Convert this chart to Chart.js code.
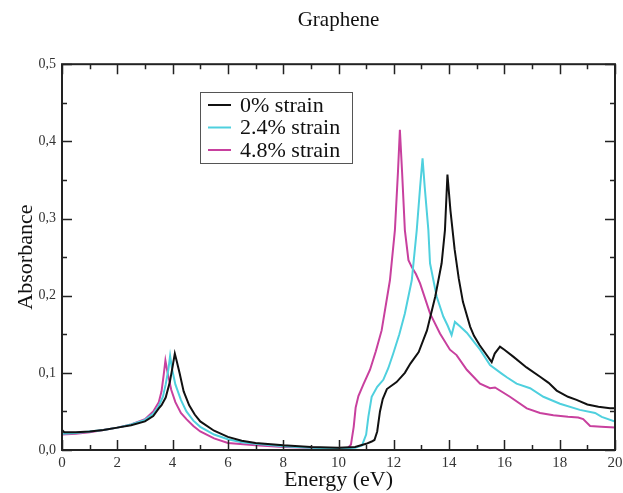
<!DOCTYPE html>
<html>
<head>
<meta charset="utf-8">
<script src="https://cdn.jsdelivr.net/npm/chart.js@4"></script>
<style>
  html, body { margin: 0; padding: 0; background: #fff; }
  #wrap { width: 623px; height: 493px; }
</style>
</head>
<body>
<div id="wrap"><canvas id="graf"></canvas></div>
<script>
// data
const energy0 = [0, 0.08, 0.5, 1, 1.5, 2, 2.5, 3, 3.3, 3.5, 3.6, 3.75, 3.9, 4.0, 4.08, 4.15, 4.25, 4.4, 4.6, 4.8, 5, 5.5, 6, 6.5, 7, 8, 9, 10, 10.6, 11, 11.2, 11.3, 11.4, 11.5, 11.6, 11.75, 12.1, 12.4, 12.6, 12.9, 13.2, 13.5, 13.73, 13.85, 13.94, 14.05, 14.2, 14.35, 14.5, 14.76, 14.9, 15.1, 15.3, 15.54, 15.65, 15.84, 16.0, 16.32, 16.8, 17.29, 17.6, 17.89, 18.3, 18.61, 19.0, 19.4, 19.82, 20];
const abs0 = [0.026, 0.023, 0.023, 0.024, 0.026, 0.029, 0.032, 0.037, 0.044, 0.054, 0.058, 0.068, 0.088, 0.108, 0.125, 0.115, 0.1, 0.076, 0.058, 0.046, 0.037, 0.025, 0.017, 0.012, 0.009, 0.006, 0.004, 0.003, 0.004, 0.008, 0.011, 0.013, 0.024, 0.05, 0.066, 0.079, 0.088, 0.1, 0.112, 0.127, 0.155, 0.199, 0.242, 0.285, 0.357, 0.31, 0.26, 0.222, 0.192, 0.16, 0.148, 0.136, 0.126, 0.114, 0.125, 0.134, 0.13, 0.121, 0.107, 0.095, 0.087, 0.077, 0.069, 0.065, 0.059, 0.056, 0.054, 0.054];

const energy1 = [0, 0.5, 1, 1.5, 2, 2.5, 3, 3.3, 3.5, 3.65, 3.75, 3.85, 3.91, 3.98, 4.1, 4.3, 4.5, 4.75, 5, 5.5, 6, 6.5, 7, 8, 9, 10, 10.6, 10.85, 11.0, 11.08, 11.2, 11.4, 11.62, 11.8, 11.98, 12.2, 12.4, 12.65, 12.83, 12.95, 13.04, 13.12, 13.25, 13.31, 13.55, 13.79, 13.95, 14.09, 14.21, 14.4, 14.64, 14.9, 15.12, 15.48, 15.9, 16.1, 16.44, 16.93, 17.41, 18.01, 18.73, 19.28, 19.52, 20];
const abs1 = [0.021, 0.022, 0.024, 0.026, 0.029, 0.033, 0.039, 0.047, 0.057, 0.069, 0.085, 0.105, 0.122, 0.105, 0.085, 0.065, 0.05, 0.038, 0.03, 0.02, 0.014, 0.01, 0.008, 0.005, 0.003, 0.002, 0.003, 0.006, 0.02, 0.043, 0.069, 0.082, 0.091, 0.106, 0.125, 0.15, 0.177, 0.22, 0.285, 0.34, 0.378, 0.34, 0.285, 0.242, 0.199, 0.173, 0.161, 0.149, 0.166, 0.16, 0.152, 0.14, 0.13, 0.11, 0.099, 0.094, 0.086, 0.08, 0.069, 0.06, 0.052, 0.048, 0.043, 0.037];

const energy2 = [0, 0.5, 1, 1.5, 2, 2.5, 3, 3.3, 3.5, 3.6, 3.68, 3.74, 3.82, 3.95, 4.1, 4.3, 4.5, 4.75, 5, 5.5, 6, 7, 8, 9, 10, 10.35, 10.45, 10.55, 10.62, 10.72, 10.9, 11.14, 11.35, 11.56, 11.86, 12.04, 12.15, 12.22, 12.3, 12.4, 12.53, 12.65, 12.8, 12.95, 13.31, 13.67, 14.03, 14.27, 14.64, 15.12, 15.48, 15.66, 16.2, 16.81, 17.29, 17.77, 18.3, 18.67, 18.85, 19.1, 19.5, 20];
const abs2 = [0.02, 0.021, 0.023, 0.026, 0.029, 0.033, 0.04, 0.05, 0.062, 0.076, 0.098, 0.116, 0.1, 0.078, 0.062, 0.048, 0.04, 0.031, 0.024, 0.015, 0.009, 0.006, 0.004, 0.003, 0.002, 0.003, 0.007, 0.03, 0.055, 0.07, 0.085, 0.104, 0.128, 0.155, 0.22, 0.285, 0.36, 0.415, 0.36, 0.285, 0.246, 0.237, 0.228, 0.216, 0.177, 0.151, 0.13, 0.123, 0.104, 0.086, 0.08, 0.081, 0.069, 0.054, 0.048, 0.045, 0.043, 0.042, 0.04, 0.031, 0.03, 0.029];

const etiquetas = ['0% strain', '2.4% strain', '4.8% strain'];
const colores = ['#111111', '#4fd0de', '#c8409e'];

const serif = "'Liberation Serif', 'DejaVu Serif', serif";

const puntos = (xs, ys) => xs.map((x, i) => ({ x: x, y: ys[i] }));

// ticks hacia dentro + marco
const marco = {
  id: 'marco',
  afterDatasetsDraw(chart) {
    const { ctx, chartArea: a, scales } = chart;
    const xs = scales.x, ys = scales.y;
    ctx.save();
    ctx.strokeStyle = '#222';
    ctx.lineWidth = 1.5;
    ctx.beginPath();
    for (let v = 0; v <= 20; v += 1) {
      const px = Math.round(xs.getPixelForValue(v)) + 0.5;
      const len = v % 2 === 0 ? 10 : 5;
      ctx.moveTo(px, a.bottom); ctx.lineTo(px, a.bottom - len);
      ctx.moveTo(px, a.top); ctx.lineTo(px, a.top + len);
    }
    for (let k = 0; k <= 10; k++) {
      const py = Math.round(ys.getPixelForValue(k * 0.05)) + 0.5;
      const len = k % 2 === 0 ? 10 : 5;
      ctx.moveTo(a.left, py); ctx.lineTo(a.left + len, py);
      ctx.moveTo(a.right, py); ctx.lineTo(a.right - len, py);
    }
    ctx.stroke();
    ctx.lineWidth = 2;
    ctx.strokeRect(a.left, a.top, a.right - a.left, a.bottom - a.top);
    ctx.restore();
  }
};

// leyenda dentro del area
const leyenda = {
  id: 'leyenda',
  afterDraw(chart) {
    const ctx = chart.ctx;
    const bx = 200, by = 92, bw = 152, bh = 71;
    ctx.save();
    ctx.fillStyle = '#fff';
    ctx.fillRect(bx, by, bw, bh);
    ctx.strokeStyle = '#555';
    ctx.lineWidth = 1;
    ctx.strokeRect(bx + 0.5, by + 0.5, bw, bh);
    ctx.font = '22px ' + serif;
    ctx.textBaseline = 'middle';
    chart.data.datasets.forEach((ds, i) => {
      const y = 105 + i * 22.5;
      ctx.strokeStyle = ds.borderColor;
      ctx.lineWidth = 2;
      ctx.beginPath();
      ctx.moveTo(208, y); ctx.lineTo(231, y);
      ctx.stroke();
      ctx.fillStyle = '#111';
      ctx.fillText(ds.label, 240, y + 1);
    });
    ctx.restore();
  }
};

new Chart(document.getElementById('graf'), {
  type: 'line',
  data: {
    datasets: [
      { label: etiquetas[0], data: puntos(energy0, abs0), borderColor: colores[0] },
      { label: etiquetas[1], data: puntos(energy1, abs1), borderColor: colores[1] },
      { label: etiquetas[2], data: puntos(energy2, abs2), borderColor: colores[2] }
    ]
  },
  options: {
    responsive: true,
    maintainAspectRatio: false,
    animation: false,
    layout: { padding: { left: 0, right: 0, top: 0, bottom: 0 } },
    elements: {
      point: { radius: 0 },
      line: { borderWidth: 2, tension: 0 }
    },
    plugins: {
      legend: { display: false },
      tooltip: { enabled: false },
      title: {
        display: true,
        text: 'Graphene',
        fullSize: false,
        color: '#111',
        font: { family: serif, size: 21, weight: 'normal', lineHeight: 1.2 },
        padding: { top: 8, bottom: 31 }
      }
    },
    scales: {
      x: {
        type: 'linear',
        min: 0, max: 20,
        grid: { display: false, drawTicks: false },
        border: { display: false },
        ticks: {
          stepSize: 2,
          padding: 4,
          color: '#333',
          font: { family: serif, size: 15 }
        },
        title: {
          display: true,
          text: 'Energy (eV)',
          color: '#111',
          font: { family: serif, size: 22, lineHeight: 1.2 },
          padding: { top: 0, bottom: 0 }
        },
        afterFit(s) {
          s.height = 43;
          s.paddingRight = 8;
        }
      },
      y: {
        min: 0, max: 0.5,
        grid: { display: false, drawTicks: false },
        border: { display: false },
        ticks: {
          stepSize: 0.1,
          padding: 6,
          color: '#333',
          font: { family: serif, size: 14 },
          callback: (v) => v.toFixed(1).replace('.', ',')
        },
        title: {
          display: true,
          text: 'Absorbance',
          color: '#111',
          font: { family: serif, size: 22, lineHeight: 1.2 },
          padding: { top: 13, bottom: 0 }
        },
        afterFit(s) { s.width = 62; }
      }
    }
  },
  plugins: [marco, leyenda]
});
</script>
</body>
</html>
